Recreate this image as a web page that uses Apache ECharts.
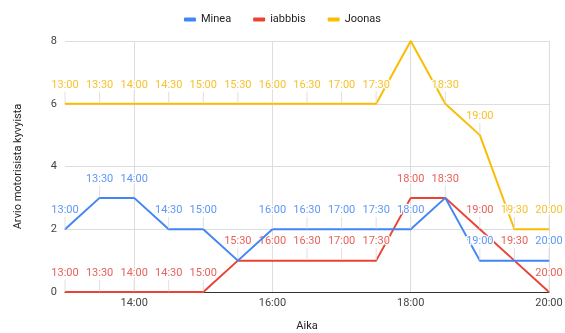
<!DOCTYPE html>
<html><head><meta charset="utf-8">
<script src="https://cdn.jsdelivr.net/npm/echarts@6/dist/echarts.min.js"></script>
<style>html,body{margin:0;padding:0;background:#fff}#c{width:565px;height:333px}</style>
</head><body><div id="c"></div>
<script>
const times = ["13:00","13:30","14:00","14:30","15:00","15:30","16:00","16:30","17:00","17:30","18:00","18:30","19:00","19:30","20:00"];
const minea = [2,3,3,2,2,1,2,2,2,2,2,3,1,1,1];
const iabbbis = [0,0,0,0,0,1,1,1,1,1,3,3,2,1,0];
const joonas = [6,6,6,6,6,6,6,6,6,6,8,6,5,2,2];
const yTicks = [0,2,4,6,8];
// annotations that the original chart leaves out (overlapping / off-chart)
const mineaHiddenLabels = ["15:30","18:30","19:30"];
const iabbbisHiddenLabels = [];
const joonasHiddenLabels = ["18:00"];

const chart = echarts.init(document.getElementById('c'));
function mk(name, values, hidden, color, labelColor, z) {
  const data = values.map((v, i) => hidden.includes(times[i]) ? { value: v, label: { show: false }, labelLine: { show: false } } : v);
  return {
    name, type: 'line', data, z,
    symbol: 'circle', symbolSize: 1,
    itemStyle: { color },
    lineStyle: { color, width: 2 },
    label: {
      show: true, position: 'top', distance: 2,
      formatter: p => times[p.dataIndex],
      color: labelColor, fontSize: 11, fontFamily: 'Roboto',
      textBorderColor: '#ffffff', textBorderWidth: 2.5
    },
    labelLayout: { dy: -11 },
    labelLine: { show: true, lineStyle: { color: '#e0e0e0', width: 1 } },
    emphasis: { disabled: true },
    animation: false
  };
}
chart.setOption({
  animation: false,
  textStyle: { fontFamily: 'Roboto' },
  legend: {
    top: 9, left: 'center', itemWidth: 12, itemHeight: 4, itemGap: 22,
    icon: 'roundRect',
    textStyle: { color: '#222', fontSize: 11, fontFamily: 'Roboto' },
    data: ['Minea', 'iabbbis', 'Joonas']
  },
  grid: { left: 65, right: 16, top: 41, bottom: 41, containLabel: false, outerBoundsMode: 'none' },
  xAxis: {
    type: 'category', data: times, boundaryGap: false,
    name: 'Aika', nameLocation: 'middle', nameGap: 29,
    nameTextStyle: { color: '#222', fontSize: 11 },
    axisLine: { show: true, lineStyle: { color: '#333', width: 1 } },
    axisTick: { show: false },
    axisLabel: { interval: (i) => i % 4 === 2, color: '#444', fontSize: 11, margin: 6 },
    splitLine: { show: true, interval: (i) => i % 4 === 2, lineStyle: { color: '#dddddd' } }
  },
  yAxis: {
    type: 'value', min: yTicks[0], max: yTicks[yTicks.length - 1], interval: 2,
    name: 'Arvio motorisista kyvyista', nameLocation: 'middle', nameGap: 41,
    nameTextStyle: { color: '#222', fontSize: 11 },
    axisLine: { show: false }, axisTick: { show: false },
    axisLabel: { color: '#444', fontSize: 11, margin: 8 },
    splitLine: { lineStyle: { color: '#dddddd' } }
  },
  series: [
    mk('Minea', minea, mineaHiddenLabels, '#4285F4', '#5e97f6', 3),
    mk('iabbbis', iabbbis, iabbbisHiddenLabels, '#EA4335', '#e8615a', 2),
    mk('Joonas', joonas, joonasHiddenLabels, '#FBBC04', '#f7c22e', 1)
  ]
});
</script></body></html>
